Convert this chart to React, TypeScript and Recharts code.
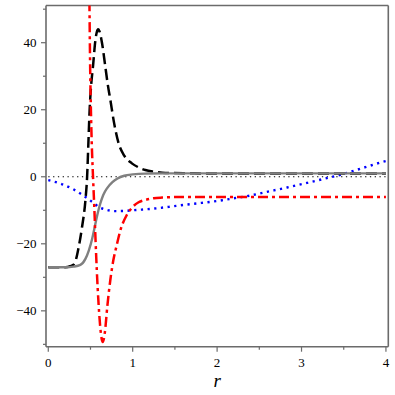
import React from 'react';
import { LineChart, Line, XAxis, YAxis, ReferenceLine } from 'recharts';

// ---- data ----
const xTicks = [0, 0.5, 1, 1.5, 2, 2.5, 3, 3.5, 4];
const yTicks = [-50, -40, -30, -20, -10, 0, 10, 20, 30, 40, 50];

const zeroR = [0, 4];
const zeroV = [0, 0];

const dashedR = [0, 0.2, 0.26, 0.3, 0.33, 0.36, 0.4, 0.44, 0.46, 0.475, 0.49, 0.51, 0.53, 0.557, 0.575, 0.59, 0.605, 0.636, 0.675, 0.705, 0.735, 0.78, 0.833, 0.9, 0.99, 1.07, 1.15, 1.25, 1.35, 1.6, 2, 3, 4];
const dashedV = [-27, -27, -26.7, -26.2, -24.5, -21, -15, -7, 0, 10, 20, 28, 33, 40.5, 43.2, 44, 43.5, 40, 33, 27.5, 23, 16, 10, 6.3, 4, 2.8, 2, 1.5, 1.2, 1.05, 1, 1, 1];

const solidR = [0, 0.2, 0.3, 0.38, 0.44, 0.48, 0.52, 0.55, 0.58, 0.61, 0.65, 0.7, 0.76, 0.82, 0.9, 1.0, 1.15, 1.4, 2, 3, 4];
const solidV = [-27, -27, -26.8, -26.3, -24.5, -22, -18.5, -15, -11.5, -8.5, -5.5, -3.3, -1.6, -0.5, 0.3, 0.7, 0.95, 1, 1, 1, 1];

const dashDotR = [0.478, 0.485, 0.49, 0.497, 0.505, 0.515, 0.53, 0.545, 0.557, 0.575, 0.596, 0.62, 0.645, 0.67, 0.7, 0.735, 0.77, 0.81, 0.86, 0.93, 1.0, 1.07, 1.15, 1.25, 1.35, 1.5, 1.75, 2, 3, 4];
const dashDotV = [90, 60, 46, 31, 20, 10, 0, -9, -17, -28, -38, -46, -49.3, -46.5, -38.5, -30.8, -25, -20.5, -15.5, -11.4, -9, -7.6, -6.9, -6.4, -6.2, -6.05, -6, -6, -6, -6];

const dottedR = [0, 0.14, 0.28, 0.38, 0.45, 0.52, 0.6, 0.67, 0.735, 0.8, 0.89, 1.05, 1.25, 1.45, 1.6, 1.78, 2.06, 2.2, 2.35, 2.59, 2.83, 3.07, 3.3, 3.46, 3.62, 3.85, 3.94, 4];
const dottedV = [-1, -2, -3.5, -5, -6.2, -7.5, -9, -9.7, -10.1, -10.25, -10.2, -9.9, -9.5, -8.9, -8.4, -7.9, -7, -6.4, -5.8, -4.5, -3.2, -1.8, -0.4, 0.6, 1.8, 3.6, 4.3, 4.7];

const zip = (rs: number[], vs: number[]) => rs.map((r, i) => ({ r, y: vs[i] }));

const zeroData = zip(zeroR, zeroV);
const dashedData = zip(dashedR, dashedV);
const solidData = zip(solidR, solidV);
const dashDotData = zip(dashDotR, dashDotV);
const dottedData = zip(dottedR, dottedV);

const FRAME = '#6b6b6b';
const FONT = '"Liberation Serif", "Times New Roman", serif';

const XTick = (props: any) => {
  const { x, y, payload } = props;
  const v = payload.value as number;
  const major = Number.isInteger(v);
  return (
    <g>
      <line x1={x} x2={x} y1={y} y2={y + (major ? 5 : 3)} stroke={FRAME} strokeWidth={1.2} />
      {major && (
        <text x={x} y={y + 11} dy="0.71em" textAnchor="middle" style={{ fontFamily: FONT, fontSize: 13 }} fill="#000">
          {String(v)}
        </text>
      )}
    </g>
  );
};

const YTick = (props: any) => {
  const { x, y, payload } = props;
  const v = payload.value as number;
  const major = v % 20 === 0;
  const label = v < 0 ? '\u2212' + String(-v) : String(v);
  return (
    <g>
      <line x1={x} x2={x - (major ? 5 : 3)} y1={y} y2={y} stroke={FRAME} strokeWidth={1.2} />
      {major && (
        <text x={x - 9.5} y={y} dy="0.35em" textAnchor="end" style={{ fontFamily: FONT, fontSize: 13 }} fill="#000">
          {label}
        </text>
      )}
    </g>
  );
};

const X_DOMAIN: [number, number] = [-0.027, 4.028];
const Y_DOMAIN: [number, number] = [-50.7, 51.1];

export default function App() {
  return (
    <div style={{ position: 'absolute', left: 0, top: 0, width: 395, height: 395, background: '#fff' }}>
      <LineChart width={395} height={395} margin={{ top: 5.5, right: 6.7, bottom: 0, left: 0 }}>
        <XAxis
          dataKey="r"
          type="number"
          domain={X_DOMAIN}
          allowDataOverflow
          ticks={xTicks}
          interval={0}
          height={48.3}
          tickSize={0}
          tickMargin={0}
          tickLine={false}
          axisLine={{ stroke: FRAME, strokeWidth: 1.6 }}
          tick={<XTick />}
          label={{ value: 'r', position: 'insideBottom', offset: 8.3, fontFamily: FONT, fontStyle: 'italic', fontSize: 19, fill: '#000' }}
        />
        <YAxis
          type="number"
          domain={Y_DOMAIN}
          allowDataOverflow
          ticks={yTicks}
          interval={0}
          width={46}
          tickSize={0}
          tickMargin={0}
          tickLine={false}
          axisLine={{ stroke: FRAME, strokeWidth: 1.6 }}
          tick={<YTick />}
        />
        <ReferenceLine y={Y_DOMAIN[1]} stroke={FRAME} strokeWidth={1.6} ifOverflow="visible" />
        <ReferenceLine x={X_DOMAIN[1]} stroke={FRAME} strokeWidth={1.6} ifOverflow="visible" />
        <Line data={zeroData} dataKey="y" type="linear" stroke="#000" strokeWidth={1.1} strokeDasharray="1.3 3.5" dot={false} isAnimationActive={false} />
        <Line data={dottedData} dataKey="y" type="monotone" stroke="#0000ff" strokeWidth={2.4} strokeDasharray="2.2 4.5" dot={false} isAnimationActive={false} />
        <Line data={dashedData} dataKey="y" type="monotone" stroke="#000" strokeWidth={2.5} strokeDasharray="11 5" dot={false} isAnimationActive={false} />
        <Line data={solidData} dataKey="y" type="monotone" stroke="#808080" strokeWidth={2.4} dot={false} isAnimationActive={false} />
        <Line data={dashDotData} dataKey="y" type="monotone" stroke="#ff0000" strokeWidth={2.5} strokeDasharray="10 4 3 4" dot={false} isAnimationActive={false} />
      </LineChart>
    </div>
  );
}
